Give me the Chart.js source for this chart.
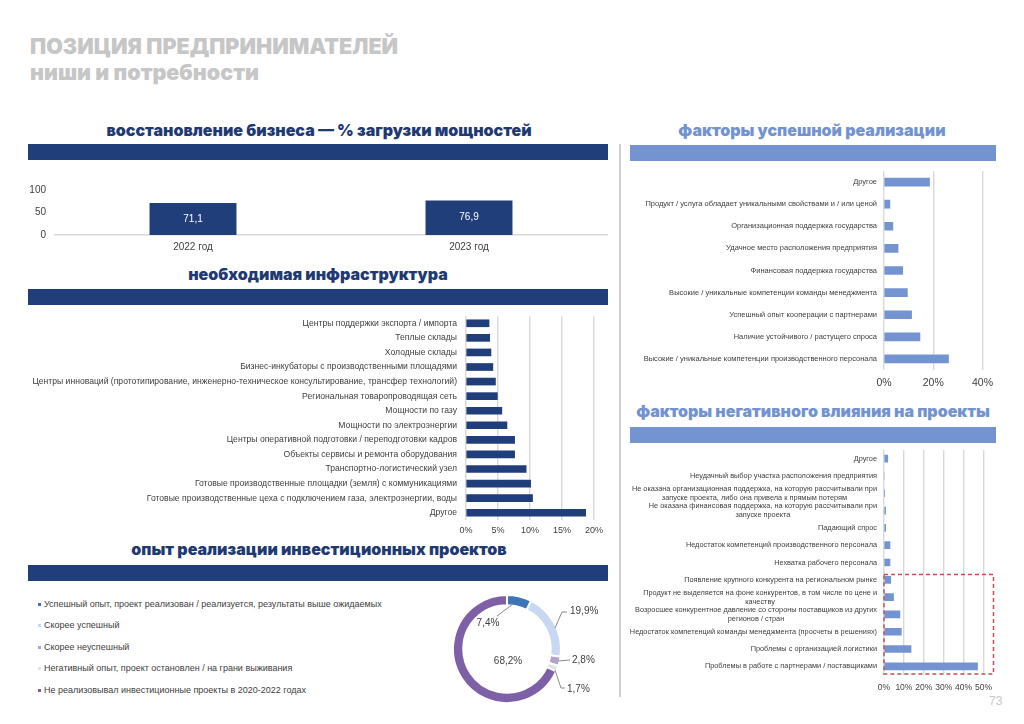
<!DOCTYPE html>
<html>
<head>
<meta charset="utf-8">
<script src="https://cdn.jsdelivr.net/npm/chart.js@4/dist/chart.umd.min.js"></script>
<style>
  body { margin: 0; background: #fff; width: 1024px; height: 724px; position: relative; overflow: hidden;
         font-family: "Liberation Sans", Arial, sans-serif; }
  .abs { position: absolute; }
  .title { left: 30px; color: #c6c6c6; font-family: Inter, "DejaVu Sans", sans-serif; font-weight: 900;
           font-size: 21.5px; line-height: 1; white-space: nowrap; transform: translateY(-50%); }
  .hdr { font-family: Inter, "DejaVu Sans", sans-serif; font-weight: 900; font-size: 16px; line-height: 1;
         white-space: nowrap; transform: translate(-50%, -50%); }
  .navy { color: #1f3a72; }
  .sky { color: #7393d0; }
  .band { height: 16px; }
  .band.navy { background: #1f3e7a; }
  .band.sky { background: #7494d1; }
  canvas { position: absolute; }
  .legend { left: 38px; font-size: 9px; color: #404040; white-space: nowrap; transform: translateY(-50%); }
  .legend i { display: inline-block; width: 3px; height: 3px; margin-right: 3px; vertical-align: middle; }
</style>
</head>
<body>
<div class="abs title" style="top:47px">ПОЗИЦИЯ ПРЕДПРИНИМАТЕЛЕЙ</div>
<div class="abs title" style="top:73px">ниши и потребности</div>

<div class="abs hdr navy" style="left:319px;top:130px">восстановление бизнеса — % загрузки мощностей</div>
<div class="abs band navy" style="left:28px;top:144px;width:580px"></div>
<div class="abs hdr navy" style="left:318px;top:274px">необходимая инфраструктура</div>
<div class="abs band navy" style="left:28px;top:289px;width:580px"></div>
<div class="abs hdr navy" style="left:319px;top:549px">опыт реализации инвестиционных проектов</div>
<div class="abs band navy" style="left:28px;top:565px;width:580px"></div>

<div class="abs" style="left:619px;top:144px;width:2px;height:553px;background:#cfcfcf"></div>
<div class="abs hdr sky" style="left:812px;top:130px">факторы успешной реализации</div>
<div class="abs band sky" style="left:630px;top:145px;width:366px"></div>
<div class="abs hdr sky" style="left:813px;top:411px">факторы негативного влияния на проекты</div>
<div class="abs band sky" style="left:630px;top:427px;width:366px"></div>

<div id="legend"></div>
<div class="abs" style="left:989px;top:694px;font-size:12px;color:#c8c8c8">73</div>

<canvas id="loadChart" width="584" height="82" style="left:28px;top:175px"></canvas>
<canvas id="infraChart" width="590" height="226" style="left:20px;top:312px"></canvas>
<canvas id="projectChart" width="170" height="140" style="left:437px;top:579px"></canvas>
<canvas id="successChart" width="375" height="230" style="left:625px;top:165px"></canvas>
<canvas id="negativeChart" width="378" height="255" style="left:622px;top:445px"></canvas>

<script>
'use strict';

// --- data ---
const loadYears = ['2022 год', '2023 год'];
const loadValues = [71.1, 76.9];

const infraLabels = [
  'Центры поддержки экспорта / импорта',
  'Теплые склады',
  'Холодные склады',
  'Бизнес-инкубаторы с производственными площадями',
  'Центры инноваций (прототипирование, инженерно-техническое консультирование, трансфер технологий)',
  'Региональная товаропроводящая сеть',
  'Мощности по газу',
  'Мощности по электроэнергии',
  'Центры оперативной подготовки / переподготовки кадров',
  'Объекты сервисы и ремонта оборудования',
  'Транспортно-логистический узел',
  'Готовые производственные площадки (земля) с коммуникациями',
  'Готовые производственные цеха с подключением газа, электроэнергии, воды',
  'Другое'
];
const infraValues = [3.6, 3.7, 3.9, 4.2, 4.6, 4.9, 5.6, 6.4, 7.6, 7.6, 9.4, 10.1, 10.4, 18.7];

const projectLabels = [
  'Успешный опыт, проект реализован / реализуется, результаты выше ожидаемых',
  'Скорее успешный',
  'Скорее неуспешный',
  'Негативный опыт, проект остановлен / на грани выживания',
  'Не реализовывал инвестиционные проекты в 2020-2022 годах'
];
const projectValues = [7.4, 19.9, 2.8, 1.7, 68.2];

const successLabels = [
  'Другое',
  'Продукт / услуга обладает уникальными свойствами и / или ценой',
  'Организационная поддержка государства',
  'Удачное место расположения предприятия',
  'Финансовая поддержка государства',
  'Высокие / уникальные компетенции команды менеджмента',
  'Успешный опыт кооперации с партнерами',
  'Наличие устойчивого / растущего спроса',
  'Высокие / уникальные компетенции производственного персонала'
];
const successValues = [18.5, 2.4, 3.6, 5.7, 7.6, 9.5, 11.2, 14.6, 26.2];

const negativeLabels = [
  'Другое',
  'Неудачный выбор участка расположения предприятия',
  ['Не оказана организационная поддержка, на которую рассчитывали при', 'запуске проекта, либо она привела к прямым потерям'],
  ['Не оказана финансовая поддержка, на которую рассчитывали при', 'запуске проекта'],
  'Падающий спрос',
  'Недостаток компетенций производственного персонала',
  'Нехватка рабочего персонала',
  'Появление крупного конкурента на региональном рынке',
  ['Продукт не выделяется на фоне конкурентов, в том числе по цене и', 'качеству'],
  ['Возросшее конкурентное давление со стороны поставщиков из других', 'регионов / стран'],
  'Недостаток компетенций команды менеджмента (просчеты в решениях)',
  'Проблемы с организацией логистики',
  'Проблемы в работе с партнерами / поставщиками'
];
const negativeValues = [1.9, 0, 0.3, 0.8, 0.8, 3.0, 3.0, 3.4, 4.8, 8.0, 8.7, 13.6, 47.0];
const negativeBoxFrom = 7; // first row inside the red dashed frame

// --- styles ---
const NAVY = '#1f3e7a';
const SKY = '#7494d1';
const GRID = '#d9d9d9';
const projectColors = ['#3e74b8', '#c8d8f3', '#b3a2cc', '#dfe1ea', '#7e60a7'];
const FONT = '"Liberation Sans", Arial, sans-serif';

Chart.defaults.font.family = FONT;
Chart.defaults.color = '#404040';
Chart.defaults.animation = false;
Chart.defaults.responsive = false;
Chart.defaults.plugins.legend.display = false;
Chart.defaults.plugins.tooltip.enabled = false;

function comma(v) {
  return String(v).replace('.', ',');
}

// legend list for the doughnut
const legendBox = document.getElementById('legend');
const legendY = [604, 625, 647, 668, 690];
for (let i = 0; i < projectLabels.length; i++) {
  const row = document.createElement('div');
  row.className = 'abs legend';
  row.style.top = legendY[i] + 'px';
  row.innerHTML = '<i style="background:' + projectColors[i] + '"></i>' + projectLabels[i];
  legendBox.appendChild(row);
}

// values written inside the bars
const insideLabels = {
  id: 'insideLabels',
  afterDatasetsDraw(chart) {
    const ctx = chart.ctx;
    const meta = chart.getDatasetMeta(0);
    ctx.save();
    ctx.fillStyle = '#fff';
    ctx.font = '10px ' + FONT;
    ctx.textAlign = 'center';
    ctx.textBaseline = 'middle';
    meta.data.forEach((bar, i) => {
      ctx.fillText(comma(chart.data.datasets[0].data[i]), bar.x, (bar.y + bar.base) / 2);
    });
    ctx.restore();
  }
};

// category labels of horizontal bars: right edge at the axis, lines centred in a block
const blockLabels = {
  id: 'blockLabels',
  afterDraw(chart, args, opts) {
    const ctx = chart.ctx;
    const y = chart.scales.y;
    ctx.save();
    ctx.font = opts.size + 'px ' + FONT;
    ctx.fillStyle = '#404040';
    ctx.textAlign = 'center';
    ctx.textBaseline = 'middle';
    chart.data.labels.forEach((lab, i) => {
      const lines = Array.isArray(lab) ? lab : [lab];
      const w = Math.max(...lines.map(l => ctx.measureText(l).width));
      const x = y.right - opts.pad - w / 2;
      const py = y.getPixelForValue(i);
      lines.forEach((l, k) => ctx.fillText(l, x, py + (k - (lines.length - 1) / 2) * opts.lineHeight));
    });
    ctx.restore();
  }
};

// red dashed frame round the competition rows
const redFrame = {
  id: 'redFrame',
  afterDraw(chart) {
    const ctx = chart.ctx;
    const y = chart.scales.y;
    const area = chart.chartArea;
    const step = y.getPixelForValue(1) - y.getPixelForValue(0);
    const top = y.getPixelForValue(negativeBoxFrom) - step * 0.3;
    ctx.save();
    ctx.setLineDash([4, 3]);
    ctx.strokeStyle = '#c0504d';
    ctx.lineWidth = 1.5;
    ctx.strokeRect(area.left, top, area.right - area.left + 10, area.bottom - 1 - top);
    ctx.restore();
  }
};

function hBarOptions(max, step, tickSize, yWidth, pad, labelOpts) {
  return {
    indexAxis: 'y',
    layout: { padding: pad },
    plugins: { blockLabels: labelOpts },
    scales: {
      x: {
        min: 0, max: max,
        grid: { color: GRID, lineWidth: 1.4, drawTicks: false },
        border: { display: false },
        ticks: { stepSize: step, autoSkip: false, maxRotation: 0, minRotation: 0,
                 font: { size: tickSize }, padding: labelOpts.tickPad, callback: v => v + '%' },
        afterFit(scale) { scale.height = labelOpts.axisHeight; }
      },
      y: {
        grid: { display: false, drawTicks: false },
        border: { display: false },
        ticks: { display: false },
        afterFit(scale) { scale.width = yWidth; }
      }
    }
  };
}

// 1. загрузка мощностей
new Chart(document.getElementById('loadChart'), {
  type: 'bar',
  data: {
    labels: loadYears,
    datasets: [{ data: loadValues, backgroundColor: NAVY, barPercentage: 0.315, categoryPercentage: 1 }]
  },
  options: {
    layout: { padding: { left: 0, right: 5, top: 8, bottom: 0 } },
    scales: {
      x: {
        grid: { display: false, drawTicks: false },
        border: { color: GRID, width: 1.5 },
        ticks: { font: { size: 10 }, padding: 6 },
        afterFit(scale) { scale.height = 22; }
      },
      y: {
        min: 0, max: 100,
        grid: { display: false, drawTicks: false },
        border: { display: false },
        ticks: { stepSize: 50, font: { size: 10 }, padding: 9 },
        afterFit(scale) { scale.width = 27; }
      }
    }
  },
  plugins: [insideLabels]
});

// 2. необходимая инфраструктура
new Chart(document.getElementById('infraChart'), {
  type: 'bar',
  data: {
    labels: infraLabels,
    datasets: [{ data: infraValues, backgroundColor: NAVY, barThickness: 7 }]
  },
  options: hBarOptions(20, 5, 9, 446, { left: 0, right: 16, top: 4, bottom: 0 },
    { size: 8.6, pad: 9, lineHeight: 9, tickPad: 5, axisHeight: 18 }),
  plugins: [blockLabels]
});

// 3. опыт реализации (кольцо)
const labelSpots = [
  { tx: -19, ty: -26, line: [[-10, -33], [6, -45]] },
  { tx: 63, ty: -38, line: [[48, -21], [55, -37], [60, -37]], left: true },
  { tx: 65, ty: 11, line: [[51, 12], [63, 11]], left: true },
  { tx: 60, ty: 40, line: [[48, 21], [54, 39], [58, 39]], left: true },
  { tx: 1, ty: 12 }
];
const ringLabels = {
  id: 'ringLabels',
  afterDraw(chart) {
    const ctx = chart.ctx;
    const arc = chart.getDatasetMeta(0).data[0];
    const cx = arc.x, cy = arc.y;
    ctx.save();
    ctx.font = '10px ' + FONT;
    ctx.fillStyle = '#404040';
    ctx.strokeStyle = '#8c8c8c';
    ctx.lineWidth = 1;
    ctx.textBaseline = 'middle';
    labelSpots.forEach((s, i) => {
      if (s.line) {
        ctx.beginPath();
        s.line.forEach((p, k) => {
          if (k === 0) ctx.moveTo(cx + p[0], cy + p[1]);
          else ctx.lineTo(cx + p[0], cy + p[1]);
        });
        ctx.stroke();
      }
      ctx.textAlign = s.left ? 'left' : 'center';
      ctx.fillText(comma(projectValues[i]) + '%', cx + s.tx, cy + s.ty);
    });
    ctx.restore();
  }
};
new Chart(document.getElementById('projectChart'), {
  type: 'doughnut',
  data: {
    labels: projectLabels,
    datasets: [{ data: projectValues, backgroundColor: projectColors, borderColor: '#fff', borderWidth: 2 }]
  },
  options: {
    cutout: '81%',
    layout: { padding: { left: 5, right: 35, top: 15, bottom: 15 } }
  },
  plugins: [ringLabels]
});

// 4. факторы успешной реализации
new Chart(document.getElementById('successChart'), {
  type: 'bar',
  data: {
    labels: successLabels,
    datasets: [{ data: successValues, backgroundColor: SKY, barThickness: 8 }]
  },
  options: hBarOptions(40, 20, 10.5, 259, { left: 0, right: 16, top: 6, bottom: 0 },
    { size: 7.5, pad: 7, lineHeight: 9, tickPad: 7, axisHeight: 25 }),
  plugins: [blockLabels]
});

// 5. факторы негативного влияния
new Chart(document.getElementById('negativeChart'), {
  type: 'bar',
  data: {
    labels: negativeLabels,
    datasets: [{ data: negativeValues, backgroundColor: SKY, barThickness: 7 }]
  },
  options: hBarOptions(50, 10, 8.5, 262, { left: 0, right: 15, top: 5, bottom: 0 },
    { size: 7.35, pad: 7, lineHeight: 8.8, tickPad: 8, axisHeight: 25 }),
  plugins: [blockLabels, redFrame]
});
</script>
</body>
</html>
